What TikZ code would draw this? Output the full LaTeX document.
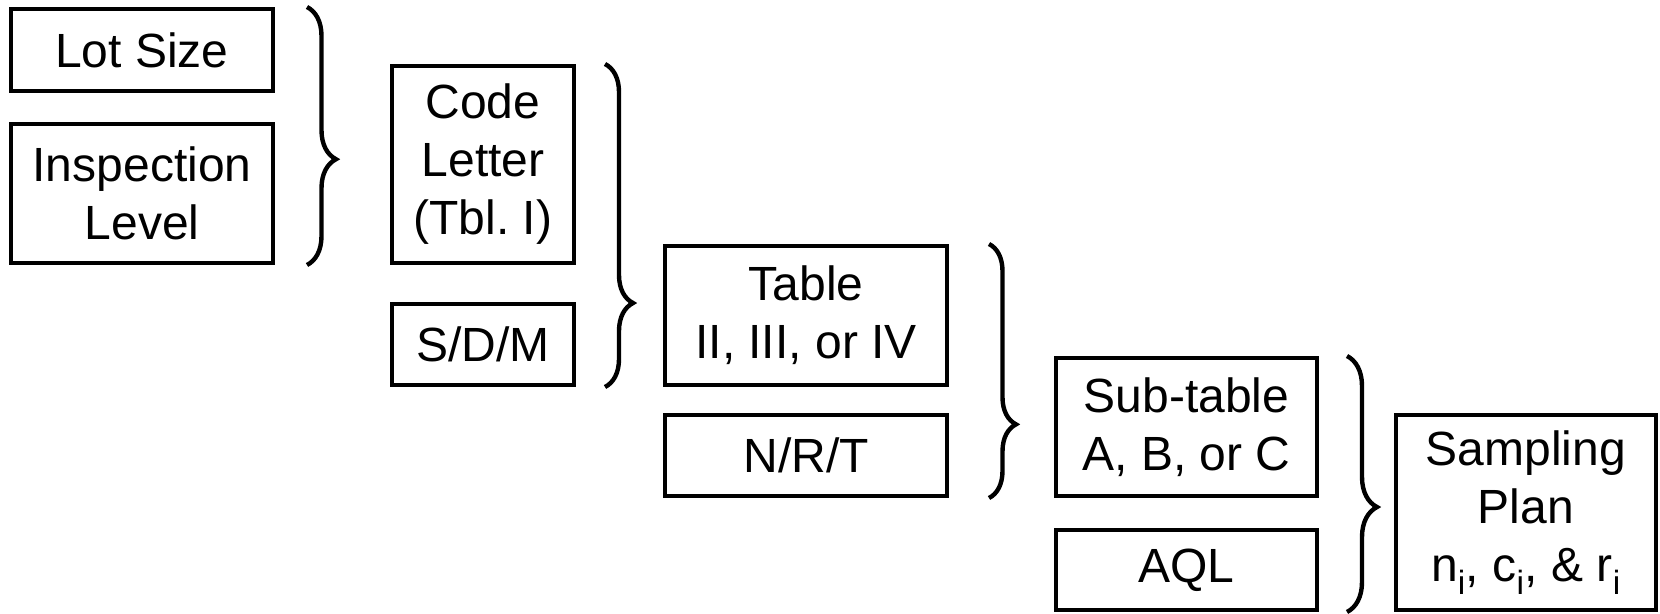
\documentclass[tikz,border=0pt]{standalone}
\usepackage{fontspec}
\setmainfont{Liberation Sans}
\usetikzlibrary{calc,decorations.pathreplacing}

\begin{document}
\begin{tikzpicture}[x=0.75pt,y=-0.75pt]
  \tikzset{every node/.style={shape=rectangle,draw,line width=3pt,align=center,inner sep=0pt,font=\fontsize{36}{43.5}\selectfont}};
  \tikzset{brc/.style 2 args={line width=3.3pt,decorate,decoration={brace,amplitude=#1,aspect=#2}}};
  \useasboundingbox (0,0) rectangle (1660,614);
  \node[minimum width=196.5pt,minimum height=61.5pt]   (LS)  at (142,50)    {Lot Size};
  \node[minimum width=196.5pt,minimum height=104.25pt] (IL)  at (142,193.5) {Inspection\\Level};
  \node[minimum width=136.5pt,minimum height=147.75pt] (CL)  at (483,164.5) {Code\\Letter\\(Tbl.\ I)};
  \node[minimum width=136.5pt,minimum height=60.75pt]  (SDM) at (483,344.5) {S/D/M};
  \node[minimum width=211.5pt,minimum height=104.25pt] (TB)  at (806,315.5) {Table\\II, III, or IV};
  \node[minimum width=211.5pt,minimum height=60.75pt]  (NRT) at (806,455.5) {N/R/T};
  \node[minimum width=195.75pt,minimum height=103.5pt] (ST)  at (1186.5,427) {Sub-table\\A, B, or C};
  \node[minimum width=195.75pt,minimum height=60pt]    (AQL) at (1186.5,570) {AQL};
  \node[minimum width=195pt,minimum height=146.25pt]   (SP)  at (1526,512.5) {Sampling\\Plan\\n\textsubscript{i}, c\textsubscript{i}, \& r\textsubscript{i}};
  \draw[brc={21.75pt}{0.59}] ($(LS.north east)+(32,0)$)  -- ($(IL.south east)+(32,0)$);
  \draw[brc={21pt}{0.74}]    ($(CL.north east)+(29,0)$)  -- ($(SDM.south east)+(29,0)$);
  \draw[brc={20.25pt}{0.71}] ($(TB.north east)+(40,0)$)  -- ($(NRT.south east)+(40,0)$);
  \draw[brc={22.5pt}{0.59}]  ($(ST.north east)+(28,0)$)  -- ($(AQL.south east)+(28,0)$);
\end{tikzpicture}
\end{document}
